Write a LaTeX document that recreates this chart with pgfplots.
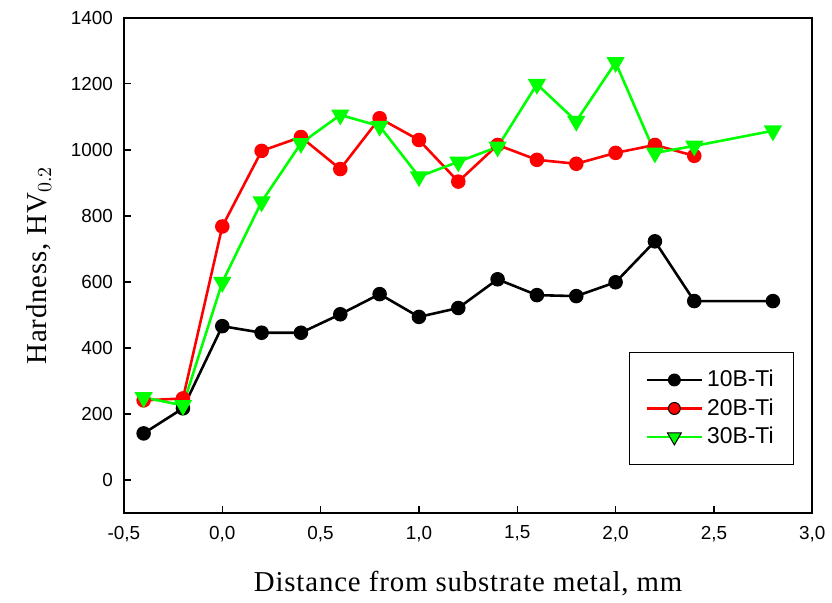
\documentclass[border=0pt]{standalone}
\usepackage{fontspec}
\setmainfont{Liberation Serif}
\newfontfamily\arial{Liberation Sans}
\newfontfamily\labelfont[LetterSpace=3]{Liberation Serif}
\usepackage{pgfplots}
\pgfplotsset{compat=1.18}
\begin{document}
\begin{tikzpicture}
\begin{axis}[
  scale only axis,
  width=346.2pt, height=249pt,
  xmin=-0.5, xmax=3.0, ymin=-100, ymax=1400,
  xtick={-0.5,0,0.5,1,1.5,2,2.5,3},
  ytick={0,200,...,1400},
  tick align=inside, xtick pos=bottom, ytick pos=left,
  major tick length=3.5pt,
  axis line style={line width=0.9pt},
  every tick/.style={black, line width=0.6pt},
  /pgf/number format/assume math mode=true,
  ticklabel style={font=\arial\fontsize{9.5}{11}\selectfont},
  xticklabel style={/pgf/number format/.cd, fixed, fixed zerofill, precision=1, use comma, /tikz/.cd, yshift=-3pt},
  yticklabel style={/pgf/number format/.cd, 1000 sep={}, /tikz/.cd, xshift=-2pt},
  xlabel={Distance from substrate metal, mm},
  ylabel={Hardness, HV$_{0.2}$},
  label style={font=\labelfont\fontsize{14.5}{17}\selectfont},
  xlabel style={yshift=-8pt},
  ylabel style={yshift=3pt},
  legend style={at={(0.974,0.096)}, anchor=south east, draw=black, line width=0.8pt,
    font=\arial\fontsize{11.5}{14}\selectfont, inner xsep=8pt, inner ysep=7pt,
    row sep=0.5pt},
  legend cell align=left,
  legend image code/.code={\draw[#1, line width=1.4pt, every mark/.append style={draw=black, line width=0.5pt}] plot coordinates {(0cm,0cm) (0.485cm,0cm) (0.97cm,0cm)};},
  legend image post style={mark repeat=2, mark phase=2},
  every axis plot/.append style={line width=1.3pt},
]
\addplot[black, mark=*, mark size=3pt, mark options={fill=black, draw=black}] coordinates {
(-0.4,141) (-0.2,217) (0,466) (0.2,446) (0.4,446) (0.6,502) (0.8,563) (1.0,494) (1.2,521) (1.4,608) (1.6,560) (1.8,557) (2.0,599) (2.2,723) (2.4,542) (2.8,542)};
\addlegendentry{10B-Ti}
\addplot[red, mark=*, mark size=3pt, mark options={fill=red, draw=red}] coordinates {
(-0.4,241) (-0.2,247) (0,768) (0.2,997) (0.4,1039) (0.6,942) (0.8,1096) (1.0,1030) (1.2,904) (1.4,1015) (1.6,970) (1.8,958) (2.0,991) (2.2,1015) (2.4,982)};
\addlegendentry{20B-Ti}
\addplot[green, mark=triangle*, mark size=4pt, mark options={fill=green, draw=green, rotate=180}] coordinates {
(-0.4,250) (-0.2,226) (0,599) (0.2,843) (0.4,1020) (0.6,1106) (0.8,1072) (1.0,919) (1.2,964) (1.4,1009) (1.6,1199) (1.8,1087) (2.0,1265) (2.2,991) (2.4,1012) (2.8,1058)};
\addlegendentry{30B-Ti}
\end{axis}
\path (current axis.south west) ++(-62.35pt,-40pt) coordinate (bbsw);
\path (current axis.north east) ++(7.5pt,9pt) coordinate (bbne);
\useasboundingbox (bbsw) rectangle (bbne);
\end{tikzpicture}
\end{document}
